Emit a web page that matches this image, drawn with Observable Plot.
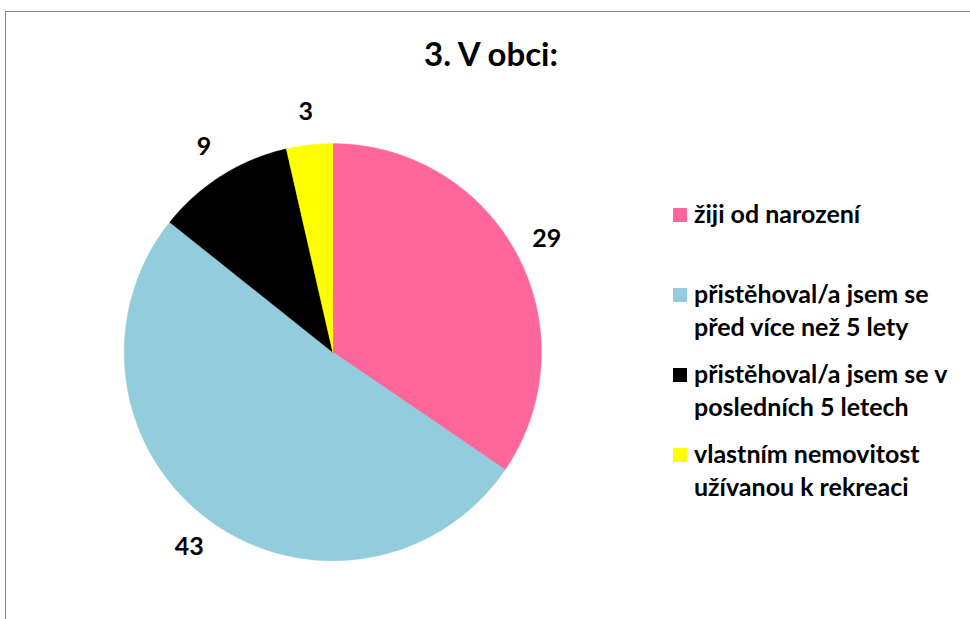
<!DOCTYPE html>
<html>
<head>
<meta charset="utf-8">
<script src="https://cdn.jsdelivr.net/npm/d3@7"></script>
<script src="https://cdn.jsdelivr.net/npm/@observablehq/plot@0.6"></script>
<style>
  html, body { margin: 0; padding: 0; background: #fff; overflow: hidden; }
  #wrap { position: relative; width: 970px; height: 619px; overflow: hidden; font-family: Lato, "DejaVu Sans", sans-serif; }
  #frame { position: absolute; left: 5px; top: 11px; width: 2000px; height: 2000px; border: 1px solid #858585; box-sizing: border-box; }
  #title { position: absolute; left: 291px; width: 400px; top: 37px; text-align: center; font-weight: 700; font-size: 33px; line-height: 33px; color: #000; }
  #chart { position: absolute; left: 0; top: 0; }
  #legend { position: absolute; left: 673px; top: 197px; }
  .item { position: relative; height: 80px; }
  .sw { position: absolute; left: 0; top: 11px; width: 14px; height: 14px; }
  .lab { position: absolute; left: 21px; top: 0; white-space: pre; font-weight: 700; font-size: 25px; line-height: 33px; color: #000; }
</style>
</head>
<body>
<div id="wrap">
  <div id="frame"></div>
  <div id="chart"></div>
  <div id="title"></div>
  <div id="legend"></div>
</div>
<script>
const title = "3. V obci:";
const categories = [
  "žiji od narození",
  "přistěhoval/a jsem se\npřed více než 5 lety",
  "přistěhoval/a jsem se v\nposledních 5 letech",
  "vlastním nemovitost\nužívanou k rekreaci"
];
const values = [29, 43, 9, 3];
const colors = ["#FF6699", "#93CDDD", "#000000", "#FFFF00"];

// Build slice polygons from the data (clockwise from 12 o'clock)
const total = d3.sum(values);
const slices = [];
const labels = [];
let acc = 0;
values.forEach((v, i) => {
  const a0 = acc / total * 2 * Math.PI;
  const a1 = (acc + v) / total * 2 * Math.PI;
  acc += v;
  const n = Math.max(2, Math.ceil((a1 - a0) / (Math.PI / 360)));
  slices.push({cat: categories[i], x: 0, y: 0});
  for (let k = 0; k <= n; k++) {
    const a = a0 + (a1 - a0) * k / n;
    slices.push({cat: categories[i], x: Math.sin(a), y: Math.cos(a)});
  }
  slices.push({cat: categories[i], x: 0, y: 0});
  const am = (a0 + a1) / 2;
  const rl = 1.16;
  labels.push({x: rl * Math.sin(am), y: rl * Math.cos(am), text: String(v)});
});

const W = 970, H = 619, cx = 332.3, cy = 351.7, R = 208.5;

const plot = Plot.plot({
  width: W,
  height: H,
  margin: 0,
  style: {background: "transparent", overflow: "visible"},
  x: {domain: [-cx / R, (W - cx) / R], axis: null},
  y: {domain: [-(H - cy) / R, cy / R], axis: null},
  color: {domain: categories, range: colors},
  marks: [
    Plot.line(slices, {x: "x", y: "y", z: "cat", fill: "cat", stroke: "cat", strokeWidth: 0.6, curve: "linear"}),
    Plot.text(labels, {x: "x", y: "y", text: "text", fontSize: 25, fontWeight: "bold", fontFamily: "Lato, sans-serif", fill: "#000"})
  ]
});
document.getElementById("chart").appendChild(plot);
document.getElementById("title").textContent = title;

const leg = document.getElementById("legend");
categories.forEach((c, i) => {
  const it = document.createElement("div");
  it.className = "item";
  const sw = document.createElement("div");
  sw.className = "sw";
  sw.style.background = colors[i];
  const lb = document.createElement("div");
  lb.className = "lab";
  lb.textContent = c;
  it.appendChild(sw);
  it.appendChild(lb);
  leg.appendChild(it);
});
</script>
</body>
</html>
